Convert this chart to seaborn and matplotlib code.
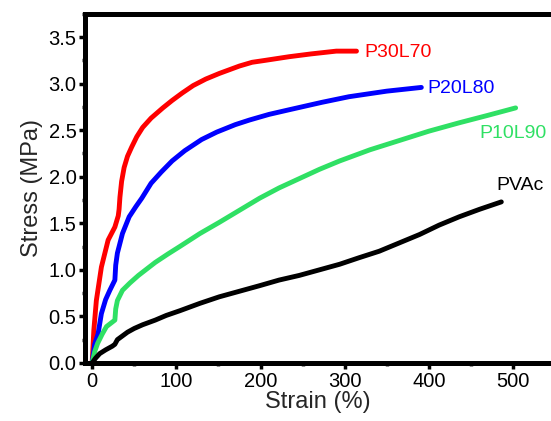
import numpy as np
import pandas as pd
import matplotlib
matplotlib.use("Agg")
import matplotlib.pyplot as plt
import seaborn as sns
from matplotlib.ticker import MultipleLocator

# ---- data ----
red_strain = [0, 2, 5, 11, 19, 27, 31, 32, 33, 35, 38, 42, 47, 53, 60, 70, 84, 95, 107, 120, 135, 151, 175, 190, 205, 234, 260, 290, 314]
red_stress = [0, 0.35, 0.67, 1.03, 1.32, 1.46, 1.58, 1.65, 1.78, 1.95, 2.10, 2.22, 2.32, 2.43, 2.53, 2.63, 2.74, 2.82, 2.90, 2.98, 3.05, 3.11, 3.19, 3.23, 3.25, 3.29, 3.32, 3.35, 3.35]

blue_strain = [0, 3, 7, 11, 16, 21, 27, 28, 30, 36, 44, 52, 59, 70, 82, 95, 110, 130, 148, 170, 187, 210, 234, 273, 305, 350, 391]
blue_stress = [0, 0.2, 0.31, 0.53, 0.68, 0.78, 0.89, 1.05, 1.18, 1.39, 1.57, 1.68, 1.77, 1.93, 2.05, 2.17, 2.28, 2.40, 2.48, 2.56, 2.61, 2.67, 2.72, 2.80, 2.86, 2.92, 2.96]

green_strain = [0, 3, 6.5, 12, 17, 27, 28, 30, 36, 45, 55, 65, 75, 90, 104, 128, 151, 175, 199, 222, 246, 270, 294, 330, 365, 400, 436, 470, 503]
green_stress = [0, 0.12, 0.21, 0.31, 0.39, 0.46, 0.58, 0.67, 0.78, 0.86, 0.94, 1.01, 1.08, 1.17, 1.25, 1.39, 1.51, 1.64, 1.77, 1.88, 1.98, 2.08, 2.17, 2.29, 2.39, 2.49, 2.58, 2.66, 2.74]

black_strain = [0, 4, 9, 16, 24, 27, 30, 36, 42, 50, 60, 75, 88, 104, 128, 151, 175, 199, 222, 246, 270, 294, 317, 341, 365, 389, 412, 436, 460, 486]
black_stress = [0, 0.05, 0.1, 0.14, 0.18, 0.20, 0.25, 0.29, 0.33, 0.37, 0.41, 0.46, 0.51, 0.56, 0.64, 0.71, 0.77, 0.83, 0.89, 0.94, 1.00, 1.06, 1.13, 1.20, 1.29, 1.38, 1.48, 1.57, 1.65, 1.73]

names = ["P30L70", "P20L80", "P10L90", "PVAc"]
colors = ["#ff0000", "#0000ff", "#2fe064", "#000000"]
label_x = [323, 398, 460, 480]
label_y = [3.34, 2.95, 2.47, 1.91]

x_ticks = [0, 100, 200, 300, 400, 500]
y_ticks = [0.0, 0.5, 1.0, 1.5, 2.0, 2.5, 3.0, 3.5]

series = [(red_strain, red_stress), (blue_strain, blue_stress),
          (green_strain, green_stress), (black_strain, black_stress)]
frames = []
for n, (s, t) in zip(names, series):
    frames.append(pd.DataFrame({"strain": s, "stress": t, "sample": n}))
df = pd.concat(frames, ignore_index=True)

sns.set_style("white")
plt.rcParams["font.family"] = ["Liberation Sans", "DejaVu Sans"]

fig = plt.figure(figsize=(5.51, 4.21), dpi=100)
ax = fig.add_axes([0.155, 0.138, 0.845, 0.829])

sns.lineplot(data=df, x="strain", y="stress", hue="sample",
             palette=dict(zip(names, colors)), sort=False, estimator=None,
             linewidth=3.5, legend=False, ax=ax, solid_capstyle="round",
             solid_joinstyle="round")

for n, c, lx, ly in zip(names, colors, label_x, label_y):
    ax.text(lx, ly, n, color=c, fontsize=14, ha="left", va="center")

ax.set_xlim(-8, 545)
ax.set_ylim(0, 3.75)
ax.set_xticks(x_ticks)
ax.set_yticks(y_ticks)
ax.set_yticklabels([f"{v:.1f}" for v in y_ticks])
ax.xaxis.set_minor_locator(MultipleLocator(50))
ax.yaxis.set_minor_locator(MultipleLocator(0.25))

for side in ["left", "bottom", "top"]:
    ax.spines[side].set_linewidth(3.6)
    ax.spines[side].set_color("black")
ax.spines["right"].set_visible(False)

ax.tick_params(which="major", direction="out", length=4.5, width=2.5,
               labelsize=14.5, pad=2, colors="black", top=False, right=False,
               bottom=True, left=True)
ax.tick_params(which="minor", direction="out", length=2.5, width=2.5,
               top=False, right=False, bottom=True, left=True)

ax.set_xlabel("Strain (%)", fontsize=17, labelpad=0)
ax.set_ylabel("Stress (MPa)", fontsize=17, labelpad=4)

fig.savefig("out.png", dpi=100)
